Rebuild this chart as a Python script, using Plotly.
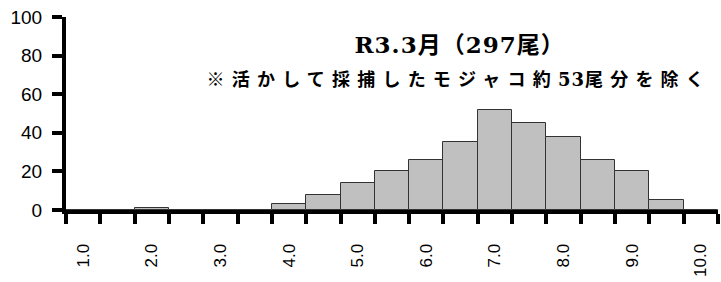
import plotly.graph_objects as go

categories = ["1.0", "1.5", "2.0", "2.5", "3.0", "3.5", "4.0", "4.5", "5.0", "5.5",
              "6.0", "6.5", "7.0", "7.5", "8.0", "8.5", "9.0", "9.5", "10.0"]
counts = [0, 0, 1, 0, 0, 0, 3, 8, 14, 20, 26, 35, 52, 45, 38, 26, 20, 5, 0]
tick_labels = [c if c.endswith(".0") else "" for c in categories]
y_ticks = [0, 20, 40, 60, 80, 100]
title_line1 = "R3.3月（297尾）"
note_parts = ["※活かして採捕したモジャコ約", "53", "尾分を除く"]

L, R, T, B = 66, 3, 17, 72
W, H = 721, 282

fig = go.Figure()
fig.add_trace(go.Bar(
    x=categories, y=counts,
    marker=dict(color="#c0c0c0", line=dict(color="#333333", width=1)),
))

pw = W - L - R
ph = H - T - B

def px(x):
    return (x - L) / pw

def py(y):
    return 1 - (y - T) / ph

note_html = ("<b>" + note_parts[0] + "</b>"
             + "<b><span style='font-family:DejaVu Serif'>" + note_parts[1] + "</span></b>"
             + "<b>" + note_parts[2] + "</b>")

fig.update_layout(
    width=W, height=H,
    margin=dict(l=L, r=R, t=T, b=B, autoexpand=False),
    paper_bgcolor="white", plot_bgcolor="white",
    bargap=0, showlegend=False,
    font=dict(family="Liberation Sans, Arial, sans-serif", color="black"),
    xaxis=dict(
        type="category", range=[-0.5, 18.5], automargin=False,
        tickmode="array", tickvals=categories, ticktext=tick_labels,
        tickson="boundaries", ticks="outside", ticklen=10, tickwidth=4, tickcolor="black",
        tickangle=-90, tickfont=dict(size=17), ticklabelstandoff=23,
        showline=True, linewidth=4, linecolor="black",
        showgrid=False, zeroline=False,
    ),
    yaxis=dict(
        range=[0, 100], tickvals=y_ticks, automargin=False,
        ticks="outside", ticklen=10, tickwidth=4, tickcolor="black",
        tickfont=dict(size=19), ticklabelstandoff=6,
        showline=True, linewidth=4, linecolor="black",
        showgrid=False, zeroline=False,
    ),
    annotations=[
        dict(text="<b>" + title_line1 + "</b>", x=px(460), y=py(44), xref="paper", yref="paper",
             xanchor="center", yanchor="middle",
             showarrow=False, font=dict(size=23, family="DejaVu Serif, Noto Sans CJK JP")),
        dict(text=note_html, x=px(459), y=py(78),
             xref="paper", yref="paper", xanchor="center", yanchor="middle",
             showarrow=False, font=dict(size=18, family="Noto Sans CJK JP")),
    ],
)

post = """
document.body.style.margin = '0';
document.querySelectorAll('.annotation-text').forEach(function(t){
  if (t.textContent.indexOf('\u203b') >= 0) {
    t.querySelectorAll('tspan').forEach(function(s){
      s.style.letterSpacing = (s.textContent === '53') ? '1px' : '7.2px';
    });
  } else {
    t.style.letterSpacing = '1px';
  }
});
"""

fig.write_html("out.html", post_script=post, config={"displayModeBar": False})
